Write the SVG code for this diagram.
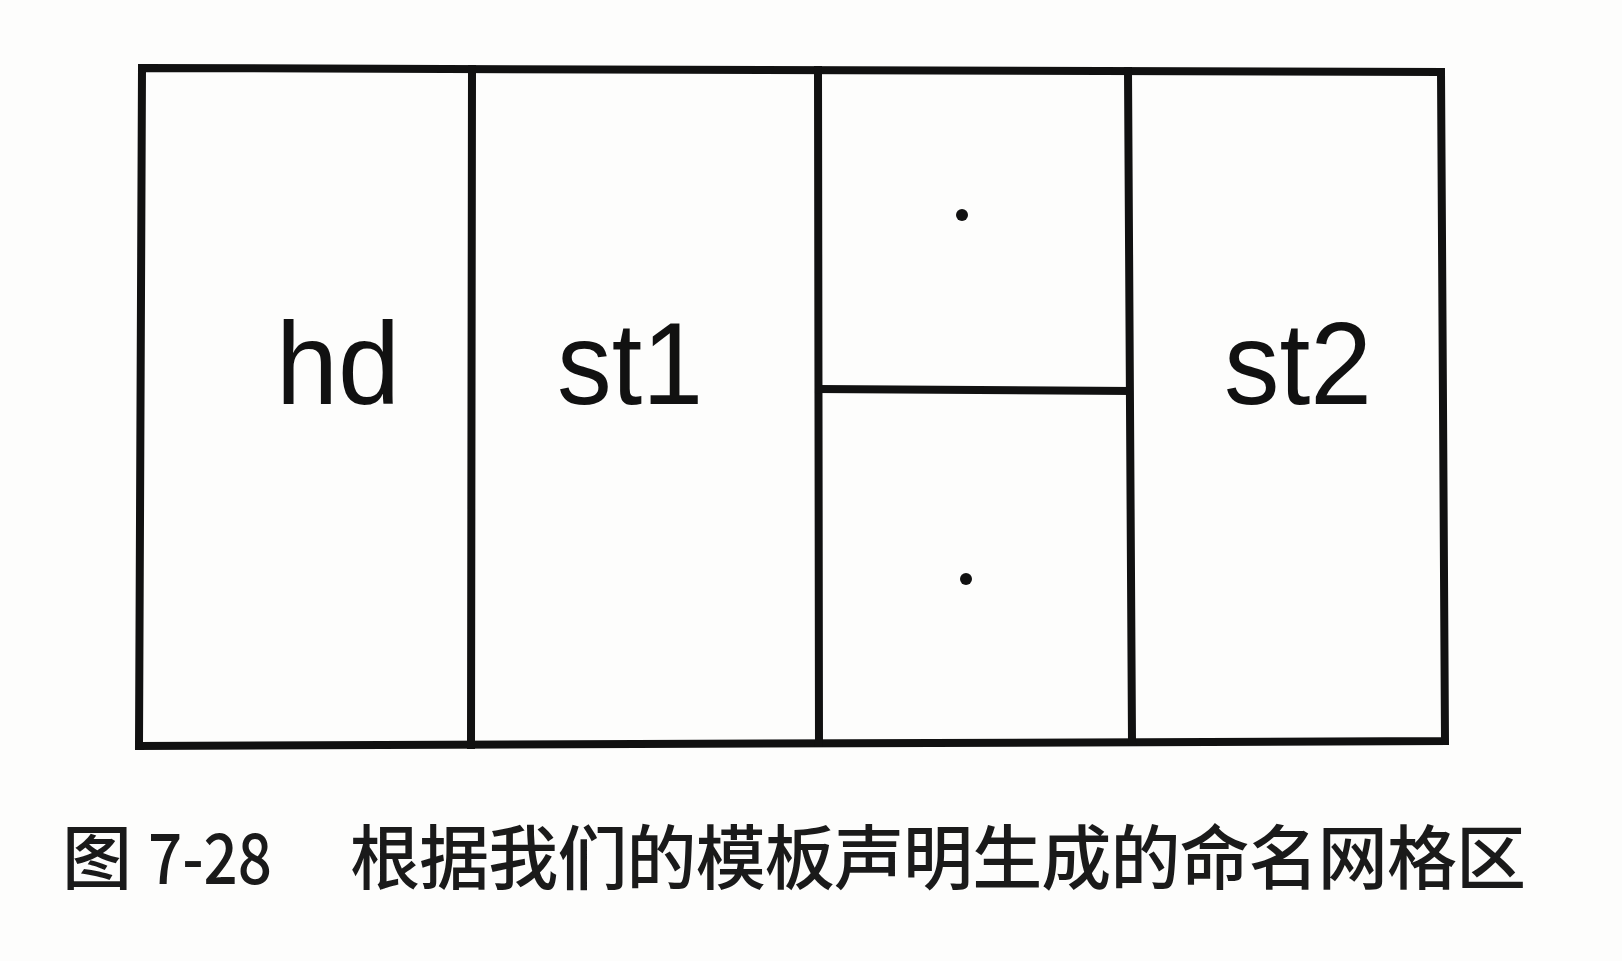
<svg xmlns="http://www.w3.org/2000/svg" width="1622" height="961" viewBox="0 0 1622 961">
<style>
.ln{stroke:#111;stroke-width:8;fill:none;stroke-linecap:square}
.lbl{font-family:"Liberation Sans",Arial,sans-serif;font-size:116px;fill:#111}
.cap{font-family:"Noto Sans CJK SC","Noto Sans",sans-serif;font-size:70px;font-weight:500;fill:#1a1a1a}
.dot{fill:#111}
</style>
<rect width="1622" height="961" fill="#fdfdfc"/>
<g id="connectors">
<path class="ln" d="M142,68 L1441,72 L1445,741 L139,746 Z"/>
<line class="ln" x1="472" y1="69" x2="471" y2="745"/>
<line class="ln" x1="818" y1="70" x2="819" y2="743"/>
<line class="ln" x1="1128" y1="71" x2="1132" y2="742"/>
<line class="ln" x1="819" y1="389" x2="1129" y2="391"/>
</g>
<g id="hd"><text class="lbl" x="276" y="404" textLength="124" lengthAdjust="spacingAndGlyphs">hd</text></g>
<g id="st1"><text class="lbl" x="557" y="404" textLength="146" lengthAdjust="spacingAndGlyphs">st1</text></g>
<g id="cell-top"><circle class="dot" cx="962" cy="215" r="6"/></g>
<g id="cell-bottom"><circle class="dot" cx="966" cy="579" r="6"/></g>
<g id="st2"><text class="lbl" x="1224" y="404" textLength="148" lengthAdjust="spacingAndGlyphs">st2</text></g>
<g id="caption">
<text class="cap" x="62" y="884">图</text>
<text class="cap" x="148" y="884" textLength="124" lengthAdjust="spacingAndGlyphs">7-28</text>
<text class="cap" x="350" y="884" textLength="1176" lengthAdjust="spacing">根据我们的模板声明生成的命名网格区</text>
</g>
</svg>
